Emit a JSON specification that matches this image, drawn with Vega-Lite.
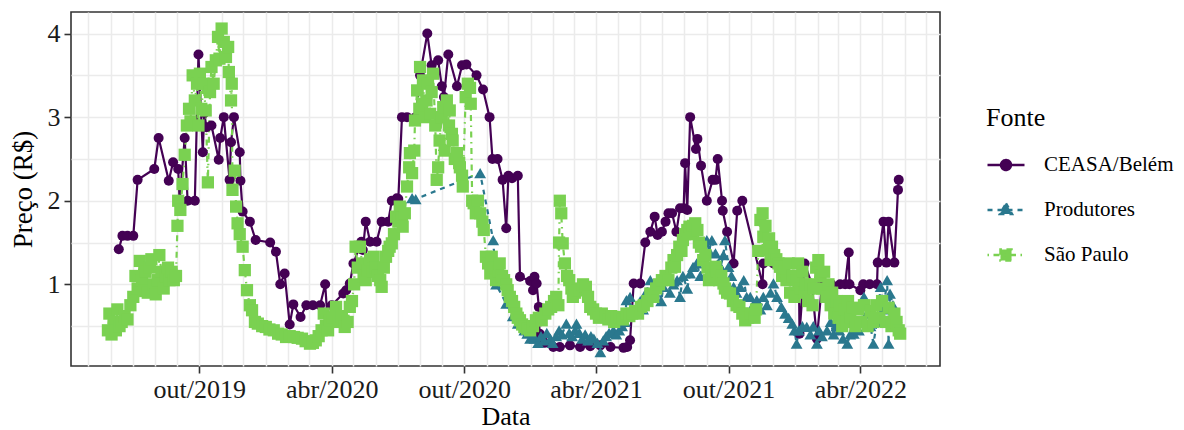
{
"$schema":"https://vega.github.io/schema/vega-lite/v6.json",
"width":869,"height":354,
"autosize":{"type":"none"},
"padding":{"left":71,"top":12,"right":244,"bottom":64},
"background":"white",
"config":{"font":"Liberation Serif","view":{"stroke":"#333333","strokeWidth":1.6}},
"data":{"values":[
{"Data":"2019-06-12","Preco":1.42,"Fonte":"CEASA/Belém"},{"Data":"2019-06-17","Preco":1.58,"Fonte":"CEASA/Belém"},{"Data":"2019-06-24","Preco":1.58,"Fonte":"CEASA/Belém"},{"Data":"2019-07-02","Preco":1.58,"Fonte":"CEASA/Belém"},{"Data":"2019-07-08","Preco":2.25,"Fonte":"CEASA/Belém"},{"Data":"2019-07-31","Preco":2.38,"Fonte":"CEASA/Belém"},{"Data":"2019-08-06","Preco":2.75,"Fonte":"CEASA/Belém"},{"Data":"2019-08-20","Preco":2.24,"Fonte":"CEASA/Belém"},{"Data":"2019-08-26","Preco":2.46,"Fonte":"CEASA/Belém"},{"Data":"2019-09-02","Preco":2.38,"Fonte":"CEASA/Belém"},{"Data":"2019-09-04","Preco":2.0,"Fonte":"CEASA/Belém"},{"Data":"2019-09-11","Preco":2.75,"Fonte":"CEASA/Belém"},{"Data":"2019-09-15","Preco":2.0,"Fonte":"CEASA/Belém"},{"Data":"2019-09-25","Preco":2.0,"Fonte":"CEASA/Belém"},{"Data":"2019-09-30","Preco":3.75,"Fonte":"CEASA/Belém"},{"Data":"2019-10-06","Preco":2.58,"Fonte":"CEASA/Belém"},{"Data":"2019-10-08","Preco":3.05,"Fonte":"CEASA/Belém"},{"Data":"2019-10-11","Preco":2.88,"Fonte":"CEASA/Belém"},{"Data":"2019-10-18","Preco":2.9,"Fonte":"CEASA/Belém"},{"Data":"2019-10-28","Preco":2.49,"Fonte":"CEASA/Belém"},{"Data":"2019-10-30","Preco":2.75,"Fonte":"CEASA/Belém"},{"Data":"2019-11-04","Preco":3.0,"Fonte":"CEASA/Belém"},{"Data":"2019-11-12","Preco":2.25,"Fonte":"CEASA/Belém"},{"Data":"2019-11-14","Preco":2.7,"Fonte":"CEASA/Belém"},{"Data":"2019-11-18","Preco":3.0,"Fonte":"CEASA/Belém"},{"Data":"2019-11-26","Preco":2.58,"Fonte":"CEASA/Belém"},{"Data":"2019-11-27","Preco":2.24,"Fonte":"CEASA/Belém"},{"Data":"2019-11-30","Preco":1.87,"Fonte":"CEASA/Belém"},{"Data":"2019-12-10","Preco":1.75,"Fonte":"CEASA/Belém"},{"Data":"2019-12-18","Preco":1.53,"Fonte":"CEASA/Belém"},{"Data":"2020-01-07","Preco":1.5,"Fonte":"CEASA/Belém"},{"Data":"2020-01-15","Preco":1.39,"Fonte":"CEASA/Belém"},{"Data":"2020-01-21","Preco":1.0,"Fonte":"CEASA/Belém"},{"Data":"2020-01-27","Preco":1.13,"Fonte":"CEASA/Belém"},{"Data":"2020-02-03","Preco":0.52,"Fonte":"CEASA/Belém"},{"Data":"2020-02-08","Preco":0.76,"Fonte":"CEASA/Belém"},{"Data":"2020-02-18","Preco":0.61,"Fonte":"CEASA/Belém"},{"Data":"2020-02-26","Preco":0.75,"Fonte":"CEASA/Belém"},{"Data":"2020-03-06","Preco":0.75,"Fonte":"CEASA/Belém"},{"Data":"2020-03-16","Preco":0.75,"Fonte":"CEASA/Belém"},{"Data":"2020-03-23","Preco":1.0,"Fonte":"CEASA/Belém"},{"Data":"2020-03-27","Preco":0.48,"Fonte":"CEASA/Belém"},{"Data":"2020-04-01","Preco":0.75,"Fonte":"CEASA/Belém"},{"Data":"2020-04-17","Preco":0.89,"Fonte":"CEASA/Belém"},{"Data":"2020-04-21","Preco":0.93,"Fonte":"CEASA/Belém"},{"Data":"2020-04-26","Preco":1.01,"Fonte":"CEASA/Belém"},{"Data":"2020-05-01","Preco":1.25,"Fonte":"CEASA/Belém"},{"Data":"2020-05-12","Preco":1.51,"Fonte":"CEASA/Belém"},{"Data":"2020-05-14","Preco":1.41,"Fonte":"CEASA/Belém"},{"Data":"2020-05-18","Preco":1.75,"Fonte":"CEASA/Belém"},{"Data":"2020-05-24","Preco":1.51,"Fonte":"CEASA/Belém"},{"Data":"2020-06-02","Preco":1.51,"Fonte":"CEASA/Belém"},{"Data":"2020-06-09","Preco":1.75,"Fonte":"CEASA/Belém"},{"Data":"2020-06-18","Preco":1.75,"Fonte":"CEASA/Belém"},{"Data":"2020-06-23","Preco":2.0,"Fonte":"CEASA/Belém"},{"Data":"2020-06-30","Preco":2.03,"Fonte":"CEASA/Belém"},{"Data":"2020-07-02","Preco":2.02,"Fonte":"CEASA/Belém"},{"Data":"2020-07-07","Preco":3.0,"Fonte":"CEASA/Belém"},{"Data":"2020-07-14","Preco":3.0,"Fonte":"CEASA/Belém"},{"Data":"2020-07-26","Preco":3.0,"Fonte":"CEASA/Belém"},{"Data":"2020-08-01","Preco":3.5,"Fonte":"CEASA/Belém"},{"Data":"2020-08-11","Preco":4.0,"Fonte":"CEASA/Belém"},{"Data":"2020-08-17","Preco":3.62,"Fonte":"CEASA/Belém"},{"Data":"2020-08-26","Preco":3.68,"Fonte":"CEASA/Belém"},{"Data":"2020-08-31","Preco":3.37,"Fonte":"CEASA/Belém"},{"Data":"2020-09-03","Preco":3.24,"Fonte":"CEASA/Belém"},{"Data":"2020-09-09","Preco":3.75,"Fonte":"CEASA/Belém"},{"Data":"2020-09-21","Preco":3.37,"Fonte":"CEASA/Belém"},{"Data":"2020-09-28","Preco":3.62,"Fonte":"CEASA/Belém"},{"Data":"2020-10-04","Preco":3.63,"Fonte":"CEASA/Belém"},{"Data":"2020-10-18","Preco":3.5,"Fonte":"CEASA/Belém"},{"Data":"2020-10-27","Preco":3.33,"Fonte":"CEASA/Belém"},{"Data":"2020-11-05","Preco":3.0,"Fonte":"CEASA/Belém"},{"Data":"2020-11-09","Preco":2.5,"Fonte":"CEASA/Belém"},{"Data":"2020-11-16","Preco":2.5,"Fonte":"CEASA/Belém"},{"Data":"2020-11-23","Preco":2.25,"Fonte":"CEASA/Belém"},{"Data":"2020-11-28","Preco":1.67,"Fonte":"CEASA/Belém"},{"Data":"2020-12-01","Preco":2.3,"Fonte":"CEASA/Belém"},{"Data":"2020-12-06","Preco":2.27,"Fonte":"CEASA/Belém"},{"Data":"2020-12-14","Preco":2.3,"Fonte":"CEASA/Belém"},{"Data":"2020-12-17","Preco":1.09,"Fonte":"CEASA/Belém"},{"Data":"2020-12-31","Preco":1.04,"Fonte":"CEASA/Belém"},{"Data":"2021-01-04","Preco":0.93,"Fonte":"CEASA/Belém"},{"Data":"2021-01-06","Preco":1.09,"Fonte":"CEASA/Belém"},{"Data":"2021-01-09","Preco":1.01,"Fonte":"CEASA/Belém"},{"Data":"2021-01-12","Preco":0.73,"Fonte":"CEASA/Belém"},{"Data":"2021-01-13","Preco":0.41,"Fonte":"CEASA/Belém"},{"Data":"2021-01-20","Preco":0.3,"Fonte":"CEASA/Belém"},{"Data":"2021-02-01","Preco":0.25,"Fonte":"CEASA/Belém"},{"Data":"2021-02-10","Preco":0.25,"Fonte":"CEASA/Belém"},{"Data":"2021-02-24","Preco":0.27,"Fonte":"CEASA/Belém"},{"Data":"2021-03-10","Preco":0.25,"Fonte":"CEASA/Belém"},{"Data":"2021-03-24","Preco":0.26,"Fonte":"CEASA/Belém"},{"Data":"2021-04-07","Preco":0.27,"Fonte":"CEASA/Belém"},{"Data":"2021-04-21","Preco":0.25,"Fonte":"CEASA/Belém"},{"Data":"2021-05-09","Preco":0.24,"Fonte":"CEASA/Belém"},{"Data":"2021-05-14","Preco":0.25,"Fonte":"CEASA/Belém"},{"Data":"2021-05-18","Preco":0.33,"Fonte":"CEASA/Belém"},{"Data":"2021-05-23","Preco":1.01,"Fonte":"CEASA/Belém"},{"Data":"2021-06-01","Preco":1.01,"Fonte":"CEASA/Belém"},{"Data":"2021-06-08","Preco":1.5,"Fonte":"CEASA/Belém"},{"Data":"2021-06-15","Preco":1.63,"Fonte":"CEASA/Belém"},{"Data":"2021-06-21","Preco":1.81,"Fonte":"CEASA/Belém"},{"Data":"2021-06-25","Preco":1.59,"Fonte":"CEASA/Belém"},{"Data":"2021-07-01","Preco":1.63,"Fonte":"CEASA/Belém"},{"Data":"2021-07-06","Preco":1.75,"Fonte":"CEASA/Belém"},{"Data":"2021-07-10","Preco":1.85,"Fonte":"CEASA/Belém"},{"Data":"2021-07-15","Preco":1.85,"Fonte":"CEASA/Belém"},{"Data":"2021-07-21","Preco":1.63,"Fonte":"CEASA/Belém"},{"Data":"2021-07-26","Preco":1.91,"Fonte":"CEASA/Belém"},{"Data":"2021-07-31","Preco":1.91,"Fonte":"CEASA/Belém"},{"Data":"2021-08-02","Preco":2.45,"Fonte":"CEASA/Belém"},{"Data":"2021-08-05","Preco":1.89,"Fonte":"CEASA/Belém"},{"Data":"2021-08-09","Preco":3.0,"Fonte":"CEASA/Belém"},{"Data":"2021-08-17","Preco":2.62,"Fonte":"CEASA/Belém"},{"Data":"2021-08-19","Preco":2.74,"Fonte":"CEASA/Belém"},{"Data":"2021-08-24","Preco":2.42,"Fonte":"CEASA/Belém"},{"Data":"2021-09-01","Preco":2.0,"Fonte":"CEASA/Belém"},{"Data":"2021-09-09","Preco":2.25,"Fonte":"CEASA/Belém"},{"Data":"2021-09-13","Preco":2.25,"Fonte":"CEASA/Belém"},{"Data":"2021-09-16","Preco":2.5,"Fonte":"CEASA/Belém"},{"Data":"2021-09-22","Preco":2.0,"Fonte":"CEASA/Belém"},{"Data":"2021-09-23","Preco":1.88,"Fonte":"CEASA/Belém"},{"Data":"2021-09-29","Preco":1.63,"Fonte":"CEASA/Belém"},{"Data":"2021-10-08","Preco":1.25,"Fonte":"CEASA/Belém"},{"Data":"2021-10-13","Preco":1.88,"Fonte":"CEASA/Belém"},{"Data":"2021-10-20","Preco":2.0,"Fonte":"CEASA/Belém"},{"Data":"2021-11-17","Preco":1.0,"Fonte":"CEASA/Belém"},{"Data":"2021-11-18","Preco":1.25,"Fonte":"CEASA/Belém"},{"Data":"2021-12-02","Preco":1.25,"Fonte":"CEASA/Belém"},{"Data":"2021-12-15","Preco":1.25,"Fonte":"CEASA/Belém"},{"Data":"2021-12-30","Preco":1.25,"Fonte":"CEASA/Belém"},{"Data":"2022-01-06","Preco":1.25,"Fonte":"CEASA/Belém"},{"Data":"2022-01-07","Preco":0.41,"Fonte":"CEASA/Belém"},{"Data":"2022-01-14","Preco":1.25,"Fonte":"CEASA/Belém"},{"Data":"2022-01-24","Preco":1.0,"Fonte":"CEASA/Belém"},{"Data":"2022-01-31","Preco":0.35,"Fonte":"CEASA/Belém"},{"Data":"2022-02-07","Preco":1.0,"Fonte":"CEASA/Belém"},{"Data":"2022-02-20","Preco":1.0,"Fonte":"CEASA/Belém"},{"Data":"2022-03-04","Preco":1.0,"Fonte":"CEASA/Belém"},{"Data":"2022-03-11","Preco":1.0,"Fonte":"CEASA/Belém"},{"Data":"2022-03-16","Preco":1.38,"Fonte":"CEASA/Belém"},{"Data":"2022-03-17","Preco":1.0,"Fonte":"CEASA/Belém"},{"Data":"2022-04-01","Preco":0.93,"Fonte":"CEASA/Belém"},{"Data":"2022-04-05","Preco":1.0,"Fonte":"CEASA/Belém"},{"Data":"2022-04-14","Preco":1.0,"Fonte":"CEASA/Belém"},{"Data":"2022-04-24","Preco":1.0,"Fonte":"CEASA/Belém"},{"Data":"2022-04-25","Preco":1.26,"Fonte":"CEASA/Belém"},{"Data":"2022-05-03","Preco":1.75,"Fonte":"CEASA/Belém"},{"Data":"2022-05-07","Preco":1.26,"Fonte":"CEASA/Belém"},{"Data":"2022-05-10","Preco":1.75,"Fonte":"CEASA/Belém"},{"Data":"2022-05-18","Preco":1.26,"Fonte":"CEASA/Belém"},{"Data":"2022-05-23","Preco":2.13,"Fonte":"CEASA/Belém"},{"Data":"2022-05-24","Preco":2.25,"Fonte":"CEASA/Belém"},
{"Data":"2020-07-21","Preco":2.03,"Fonte":"Produtores"},{"Data":"2020-07-26","Preco":2.02,"Fonte":"Produtores"},{"Data":"2020-10-23","Preco":2.33,"Fonte":"Produtores"},{"Data":"2020-11-10","Preco":1.53,"Fonte":"Produtores"},{"Data":"2020-11-14","Preco":1.0,"Fonte":"Produtores"},{"Data":"2020-11-28","Preco":0.77,"Fonte":"Produtores"},{"Data":"2020-12-07","Preco":0.62,"Fonte":"Produtores"},{"Data":"2020-12-14","Preco":0.53,"Fonte":"Produtores"},{"Data":"2020-12-23","Preco":0.45,"Fonte":"Produtores"},{"Data":"2020-12-27","Preco":0.41,"Fonte":"Produtores"},{"Data":"2020-12-31","Preco":0.35,"Fonte":"Produtores"},{"Data":"2021-01-02","Preco":0.42,"Fonte":"Produtores"},{"Data":"2021-01-06","Preco":0.35,"Fonte":"Produtores"},{"Data":"2021-01-11","Preco":0.3,"Fonte":"Produtores"},{"Data":"2021-01-15","Preco":0.38,"Fonte":"Produtores"},{"Data":"2021-01-19","Preco":0.33,"Fonte":"Produtores"},{"Data":"2021-01-23","Preco":0.42,"Fonte":"Produtores"},{"Data":"2021-01-28","Preco":0.35,"Fonte":"Produtores"},{"Data":"2021-01-31","Preco":0.3,"Fonte":"Produtores"},{"Data":"2021-02-05","Preco":0.38,"Fonte":"Produtores"},{"Data":"2021-02-09","Preco":0.45,"Fonte":"Produtores"},{"Data":"2021-02-13","Preco":0.4,"Fonte":"Produtores"},{"Data":"2021-02-19","Preco":0.53,"Fonte":"Produtores"},{"Data":"2021-02-23","Preco":0.42,"Fonte":"Produtores"},{"Data":"2021-02-27","Preco":0.38,"Fonte":"Produtores"},{"Data":"2021-03-03","Preco":0.45,"Fonte":"Produtores"},{"Data":"2021-03-05","Preco":0.53,"Fonte":"Produtores"},{"Data":"2021-03-09","Preco":0.42,"Fonte":"Produtores"},{"Data":"2021-03-13","Preco":0.35,"Fonte":"Produtores"},{"Data":"2021-03-17","Preco":0.4,"Fonte":"Produtores"},{"Data":"2021-03-21","Preco":0.33,"Fonte":"Produtores"},{"Data":"2021-03-25","Preco":0.38,"Fonte":"Produtores"},{"Data":"2021-03-29","Preco":0.35,"Fonte":"Produtores"},{"Data":"2021-04-03","Preco":0.3,"Fonte":"Produtores"},{"Data":"2021-04-07","Preco":0.19,"Fonte":"Produtores"},{"Data":"2021-04-11","Preco":0.33,"Fonte":"Produtores"},{"Data":"2021-04-15","Preco":0.38,"Fonte":"Produtores"},{"Data":"2021-04-19","Preco":0.42,"Fonte":"Produtores"},{"Data":"2021-04-21","Preco":0.63,"Fonte":"Produtores"},{"Data":"2021-04-25","Preco":0.45,"Fonte":"Produtores"},{"Data":"2021-04-29","Preco":0.4,"Fonte":"Produtores"},{"Data":"2021-05-03","Preco":0.45,"Fonte":"Produtores"},{"Data":"2021-05-07","Preco":0.5,"Fonte":"Produtores"},{"Data":"2021-05-11","Preco":0.55,"Fonte":"Produtores"},{"Data":"2021-05-13","Preco":0.81,"Fonte":"Produtores"},{"Data":"2021-05-18","Preco":0.85,"Fonte":"Produtores"},{"Data":"2021-05-22","Preco":0.65,"Fonte":"Produtores"},{"Data":"2021-05-27","Preco":0.73,"Fonte":"Produtores"},{"Data":"2021-06-01","Preco":0.8,"Fonte":"Produtores"},{"Data":"2021-06-05","Preco":0.7,"Fonte":"Produtores"},{"Data":"2021-06-09","Preco":0.9,"Fonte":"Produtores"},{"Data":"2021-06-15","Preco":1.05,"Fonte":"Produtores"},{"Data":"2021-06-19","Preco":0.85,"Fonte":"Produtores"},{"Data":"2021-06-22","Preco":0.95,"Fonte":"Produtores"},{"Data":"2021-06-26","Preco":0.97,"Fonte":"Produtores"},{"Data":"2021-06-30","Preco":0.8,"Fonte":"Produtores"},{"Data":"2021-07-03","Preco":0.97,"Fonte":"Produtores"},{"Data":"2021-07-08","Preco":1.13,"Fonte":"Produtores"},{"Data":"2021-07-12","Preco":0.9,"Fonte":"Produtores"},{"Data":"2021-07-17","Preco":1.0,"Fonte":"Produtores"},{"Data":"2021-07-22","Preco":1.05,"Fonte":"Produtores"},{"Data":"2021-07-26","Preco":0.85,"Fonte":"Produtores"},{"Data":"2021-07-30","Preco":1.1,"Fonte":"Produtores"},{"Data":"2021-08-05","Preco":0.95,"Fonte":"Produtores"},{"Data":"2021-08-09","Preco":1.13,"Fonte":"Produtores"},{"Data":"2021-08-13","Preco":1.21,"Fonte":"Produtores"},{"Data":"2021-08-18","Preco":1.25,"Fonte":"Produtores"},{"Data":"2021-08-23","Preco":1.1,"Fonte":"Produtores"},{"Data":"2021-08-27","Preco":1.3,"Fonte":"Produtores"},{"Data":"2021-09-01","Preco":1.53,"Fonte":"Produtores"},{"Data":"2021-09-04","Preco":1.4,"Fonte":"Produtores"},{"Data":"2021-09-08","Preco":1.53,"Fonte":"Produtores"},{"Data":"2021-09-13","Preco":1.37,"Fonte":"Produtores"},{"Data":"2021-09-17","Preco":1.25,"Fonte":"Produtores"},{"Data":"2021-09-20","Preco":1.21,"Fonte":"Produtores"},{"Data":"2021-09-24","Preco":1.35,"Fonte":"Produtores"},{"Data":"2021-09-26","Preco":1.53,"Fonte":"Produtores"},{"Data":"2021-10-01","Preco":1.21,"Fonte":"Produtores"},{"Data":"2021-10-05","Preco":1.1,"Fonte":"Produtores"},{"Data":"2021-10-08","Preco":0.97,"Fonte":"Produtores"},{"Data":"2021-10-12","Preco":0.9,"Fonte":"Produtores"},{"Data":"2021-10-17","Preco":0.97,"Fonte":"Produtores"},{"Data":"2021-10-22","Preco":1.05,"Fonte":"Produtores"},{"Data":"2021-10-26","Preco":0.85,"Fonte":"Produtores"},{"Data":"2021-10-31","Preco":0.85,"Fonte":"Produtores"},{"Data":"2021-11-04","Preco":0.75,"Fonte":"Produtores"},{"Data":"2021-11-09","Preco":0.81,"Fonte":"Produtores"},{"Data":"2021-11-14","Preco":0.7,"Fonte":"Produtores"},{"Data":"2021-11-18","Preco":0.85,"Fonte":"Produtores"},{"Data":"2021-11-23","Preco":0.75,"Fonte":"Produtores"},{"Data":"2021-11-28","Preco":0.9,"Fonte":"Produtores"},{"Data":"2021-12-02","Preco":1.01,"Fonte":"Produtores"},{"Data":"2021-12-07","Preco":0.85,"Fonte":"Produtores"},{"Data":"2021-12-13","Preco":0.73,"Fonte":"Produtores"},{"Data":"2021-12-18","Preco":0.65,"Fonte":"Produtores"},{"Data":"2021-12-23","Preco":0.6,"Fonte":"Produtores"},{"Data":"2021-12-28","Preco":0.53,"Fonte":"Produtores"},{"Data":"2021-12-31","Preco":0.45,"Fonte":"Produtores"},{"Data":"2022-01-03","Preco":0.29,"Fonte":"Produtores"},{"Data":"2022-01-06","Preco":0.45,"Fonte":"Produtores"},{"Data":"2022-01-11","Preco":0.5,"Fonte":"Produtores"},{"Data":"2022-01-17","Preco":0.49,"Fonte":"Produtores"},{"Data":"2022-01-22","Preco":0.4,"Fonte":"Produtores"},{"Data":"2022-01-26","Preco":0.5,"Fonte":"Produtores"},{"Data":"2022-01-31","Preco":0.29,"Fonte":"Produtores"},{"Data":"2022-02-03","Preco":0.45,"Fonte":"Produtores"},{"Data":"2022-02-07","Preco":0.38,"Fonte":"Produtores"},{"Data":"2022-02-14","Preco":0.45,"Fonte":"Produtores"},{"Data":"2022-02-19","Preco":0.55,"Fonte":"Produtores"},{"Data":"2022-02-23","Preco":0.4,"Fonte":"Produtores"},{"Data":"2022-02-27","Preco":0.5,"Fonte":"Produtores"},{"Data":"2022-03-03","Preco":0.45,"Fonte":"Produtores"},{"Data":"2022-03-08","Preco":0.35,"Fonte":"Produtores"},{"Data":"2022-03-14","Preco":0.29,"Fonte":"Produtores"},{"Data":"2022-03-18","Preco":0.4,"Fonte":"Produtores"},{"Data":"2022-03-23","Preco":0.41,"Fonte":"Produtores"},{"Data":"2022-03-26","Preco":0.5,"Fonte":"Produtores"},{"Data":"2022-03-30","Preco":0.45,"Fonte":"Produtores"},{"Data":"2022-04-06","Preco":0.85,"Fonte":"Produtores"},{"Data":"2022-04-10","Preco":0.65,"Fonte":"Produtores"},{"Data":"2022-04-15","Preco":0.5,"Fonte":"Produtores"},{"Data":"2022-04-19","Preco":0.29,"Fonte":"Produtores"},{"Data":"2022-04-24","Preco":0.55,"Fonte":"Produtores"},{"Data":"2022-04-29","Preco":0.97,"Fonte":"Produtores"},{"Data":"2022-05-03","Preco":0.7,"Fonte":"Produtores"},{"Data":"2022-05-08","Preco":1.05,"Fonte":"Produtores"},{"Data":"2022-05-10","Preco":0.29,"Fonte":"Produtores"},{"Data":"2022-05-12","Preco":0.89,"Fonte":"Produtores"},{"Data":"2022-05-16","Preco":0.75,"Fonte":"Produtores"},{"Data":"2022-05-21","Preco":0.6,"Fonte":"Produtores"},
{"Data":"2019-05-28","Preco":0.45,"Fonte":"São Paulo"},{"Data":"2019-05-30","Preco":0.65,"Fonte":"São Paulo"},{"Data":"2019-06-02","Preco":0.4,"Fonte":"São Paulo"},{"Data":"2019-06-05","Preco":0.55,"Fonte":"São Paulo"},{"Data":"2019-06-08","Preco":0.45,"Fonte":"São Paulo"},{"Data":"2019-06-10","Preco":0.7,"Fonte":"São Paulo"},{"Data":"2019-06-13","Preco":0.5,"Fonte":"São Paulo"},{"Data":"2019-06-16","Preco":0.55,"Fonte":"São Paulo"},{"Data":"2019-06-20","Preco":0.62,"Fonte":"São Paulo"},{"Data":"2019-06-24","Preco":0.58,"Fonte":"São Paulo"},{"Data":"2019-06-28","Preco":0.75,"Fonte":"São Paulo"},{"Data":"2019-07-02","Preco":0.85,"Fonte":"São Paulo"},{"Data":"2019-07-05","Preco":1.1,"Fonte":"São Paulo"},{"Data":"2019-07-08","Preco":0.95,"Fonte":"São Paulo"},{"Data":"2019-07-11","Preco":1.28,"Fonte":"São Paulo"},{"Data":"2019-07-14","Preco":1.05,"Fonte":"São Paulo"},{"Data":"2019-07-16","Preco":0.92,"Fonte":"São Paulo"},{"Data":"2019-07-19","Preco":1.15,"Fonte":"São Paulo"},{"Data":"2019-07-22","Preco":0.9,"Fonte":"São Paulo"},{"Data":"2019-07-25","Preco":1.2,"Fonte":"São Paulo"},{"Data":"2019-07-27","Preco":1.3,"Fonte":"São Paulo"},{"Data":"2019-07-30","Preco":1.0,"Fonte":"São Paulo"},{"Data":"2019-08-02","Preco":0.88,"Fonte":"São Paulo"},{"Data":"2019-08-05","Preco":1.05,"Fonte":"São Paulo"},{"Data":"2019-08-07","Preco":1.35,"Fonte":"São Paulo"},{"Data":"2019-08-10","Preco":1.15,"Fonte":"São Paulo"},{"Data":"2019-08-13","Preco":0.95,"Fonte":"São Paulo"},{"Data":"2019-08-16","Preco":1.1,"Fonte":"São Paulo"},{"Data":"2019-08-19","Preco":1.2,"Fonte":"São Paulo"},{"Data":"2019-08-21","Preco":1.05,"Fonte":"São Paulo"},{"Data":"2019-08-24","Preco":1.15,"Fonte":"São Paulo"},{"Data":"2019-08-27","Preco":1.05,"Fonte":"São Paulo"},{"Data":"2019-08-30","Preco":1.1,"Fonte":"São Paulo"},{"Data":"2019-09-01","Preco":1.7,"Fonte":"São Paulo"},{"Data":"2019-09-02","Preco":2.0,"Fonte":"São Paulo"},{"Data":"2019-09-05","Preco":1.89,"Fonte":"São Paulo"},{"Data":"2019-09-08","Preco":2.2,"Fonte":"São Paulo"},{"Data":"2019-09-11","Preco":2.55,"Fonte":"São Paulo"},{"Data":"2019-09-14","Preco":2.9,"Fonte":"São Paulo"},{"Data":"2019-09-17","Preco":3.1,"Fonte":"São Paulo"},{"Data":"2019-09-19","Preco":2.95,"Fonte":"São Paulo"},{"Data":"2019-09-22","Preco":3.5,"Fonte":"São Paulo"},{"Data":"2019-09-25","Preco":3.2,"Fonte":"São Paulo"},{"Data":"2019-09-28","Preco":3.4,"Fonte":"São Paulo"},{"Data":"2019-09-30","Preco":2.9,"Fonte":"São Paulo"},{"Data":"2019-10-02","Preco":3.52,"Fonte":"São Paulo"},{"Data":"2019-10-04","Preco":3.1,"Fonte":"São Paulo"},{"Data":"2019-10-07","Preco":3.4,"Fonte":"São Paulo"},{"Data":"2019-10-10","Preco":3.08,"Fonte":"São Paulo"},{"Data":"2019-10-13","Preco":2.22,"Fonte":"São Paulo"},{"Data":"2019-10-16","Preco":3.3,"Fonte":"São Paulo"},{"Data":"2019-10-18","Preco":3.6,"Fonte":"São Paulo"},{"Data":"2019-10-21","Preco":3.4,"Fonte":"São Paulo"},{"Data":"2019-10-24","Preco":3.68,"Fonte":"São Paulo"},{"Data":"2019-10-27","Preco":3.96,"Fonte":"São Paulo"},{"Data":"2019-10-29","Preco":3.7,"Fonte":"São Paulo"},{"Data":"2019-11-01","Preco":4.06,"Fonte":"São Paulo"},{"Data":"2019-11-04","Preco":3.9,"Fonte":"São Paulo"},{"Data":"2019-11-07","Preco":3.72,"Fonte":"São Paulo"},{"Data":"2019-11-10","Preco":3.84,"Fonte":"São Paulo"},{"Data":"2019-11-11","Preco":3.54,"Fonte":"São Paulo"},{"Data":"2019-11-14","Preco":3.2,"Fonte":"São Paulo"},{"Data":"2019-11-15","Preco":3.4,"Fonte":"São Paulo"},{"Data":"2019-11-16","Preco":2.13,"Fonte":"São Paulo"},{"Data":"2019-11-19","Preco":2.36,"Fonte":"São Paulo"},{"Data":"2019-11-21","Preco":1.93,"Fonte":"São Paulo"},{"Data":"2019-11-23","Preco":1.73,"Fonte":"São Paulo"},{"Data":"2019-11-26","Preco":1.6,"Fonte":"São Paulo"},{"Data":"2019-11-30","Preco":1.45,"Fonte":"São Paulo"},{"Data":"2019-12-03","Preco":1.17,"Fonte":"São Paulo"},{"Data":"2019-12-06","Preco":0.93,"Fonte":"São Paulo"},{"Data":"2019-12-10","Preco":0.75,"Fonte":"São Paulo"},{"Data":"2019-12-13","Preco":0.69,"Fonte":"São Paulo"},{"Data":"2019-12-17","Preco":0.55,"Fonte":"São Paulo"},{"Data":"2019-12-21","Preco":0.53,"Fonte":"São Paulo"},{"Data":"2019-12-27","Preco":0.5,"Fonte":"São Paulo"},{"Data":"2020-01-01","Preco":0.49,"Fonte":"São Paulo"},{"Data":"2020-01-06","Preco":0.46,"Fonte":"São Paulo"},{"Data":"2020-01-12","Preco":0.45,"Fonte":"São Paulo"},{"Data":"2020-01-18","Preco":0.41,"Fonte":"São Paulo"},{"Data":"2020-01-23","Preco":0.4,"Fonte":"São Paulo"},{"Data":"2020-01-29","Preco":0.37,"Fonte":"São Paulo"},{"Data":"2020-02-03","Preco":0.38,"Fonte":"São Paulo"},{"Data":"2020-02-09","Preco":0.37,"Fonte":"São Paulo"},{"Data":"2020-02-14","Preco":0.36,"Fonte":"São Paulo"},{"Data":"2020-02-20","Preco":0.35,"Fonte":"São Paulo"},{"Data":"2020-02-25","Preco":0.32,"Fonte":"São Paulo"},{"Data":"2020-03-02","Preco":0.29,"Fonte":"São Paulo"},{"Data":"2020-03-06","Preco":0.3,"Fonte":"São Paulo"},{"Data":"2020-03-10","Preco":0.33,"Fonte":"São Paulo"},{"Data":"2020-03-14","Preco":0.38,"Fonte":"São Paulo"},{"Data":"2020-03-18","Preco":0.45,"Fonte":"São Paulo"},{"Data":"2020-03-21","Preco":0.65,"Fonte":"São Paulo"},{"Data":"2020-03-24","Preco":0.5,"Fonte":"São Paulo"},{"Data":"2020-03-27","Preco":0.45,"Fonte":"São Paulo"},{"Data":"2020-03-29","Preco":0.57,"Fonte":"São Paulo"},{"Data":"2020-04-02","Preco":0.6,"Fonte":"São Paulo"},{"Data":"2020-04-07","Preco":0.73,"Fonte":"São Paulo"},{"Data":"2020-04-11","Preco":0.55,"Fonte":"São Paulo"},{"Data":"2020-04-15","Preco":0.62,"Fonte":"São Paulo"},{"Data":"2020-04-19","Preco":0.49,"Fonte":"São Paulo"},{"Data":"2020-04-23","Preco":0.55,"Fonte":"São Paulo"},{"Data":"2020-04-26","Preco":0.73,"Fonte":"São Paulo"},{"Data":"2020-04-29","Preco":0.8,"Fonte":"São Paulo"},{"Data":"2020-05-02","Preco":1.0,"Fonte":"São Paulo"},{"Data":"2020-05-04","Preco":1.45,"Fonte":"São Paulo"},{"Data":"2020-05-07","Preco":1.2,"Fonte":"São Paulo"},{"Data":"2020-05-10","Preco":1.45,"Fonte":"São Paulo"},{"Data":"2020-05-13","Preco":1.25,"Fonte":"São Paulo"},{"Data":"2020-05-15","Preco":1.1,"Fonte":"São Paulo"},{"Data":"2020-05-18","Preco":1.05,"Fonte":"São Paulo"},{"Data":"2020-05-21","Preco":1.17,"Fonte":"São Paulo"},{"Data":"2020-05-24","Preco":1.3,"Fonte":"São Paulo"},{"Data":"2020-05-27","Preco":1.15,"Fonte":"São Paulo"},{"Data":"2020-05-29","Preco":1.33,"Fonte":"São Paulo"},{"Data":"2020-06-01","Preco":1.2,"Fonte":"São Paulo"},{"Data":"2020-06-04","Preco":1.1,"Fonte":"São Paulo"},{"Data":"2020-06-07","Preco":1.05,"Fonte":"São Paulo"},{"Data":"2020-06-09","Preco":0.97,"Fonte":"São Paulo"},{"Data":"2020-06-12","Preco":1.2,"Fonte":"São Paulo"},{"Data":"2020-06-15","Preco":1.33,"Fonte":"São Paulo"},{"Data":"2020-06-18","Preco":1.4,"Fonte":"São Paulo"},{"Data":"2020-06-20","Preco":1.45,"Fonte":"São Paulo"},{"Data":"2020-06-23","Preco":1.49,"Fonte":"São Paulo"},{"Data":"2020-06-26","Preco":1.6,"Fonte":"São Paulo"},{"Data":"2020-06-29","Preco":1.81,"Fonte":"São Paulo"},{"Data":"2020-07-02","Preco":1.75,"Fonte":"São Paulo"},{"Data":"2020-07-04","Preco":1.93,"Fonte":"São Paulo"},{"Data":"2020-07-07","Preco":1.8,"Fonte":"São Paulo"},{"Data":"2020-07-08","Preco":1.69,"Fonte":"São Paulo"},{"Data":"2020-07-11","Preco":1.85,"Fonte":"São Paulo"},{"Data":"2020-07-14","Preco":2.17,"Fonte":"São Paulo"},{"Data":"2020-07-17","Preco":2.4,"Fonte":"São Paulo"},{"Data":"2020-07-18","Preco":2.57,"Fonte":"São Paulo"},{"Data":"2020-07-21","Preco":2.33,"Fonte":"São Paulo"},{"Data":"2020-07-24","Preco":2.6,"Fonte":"São Paulo"},{"Data":"2020-07-25","Preco":2.96,"Fonte":"São Paulo"},{"Data":"2020-07-28","Preco":3.32,"Fonte":"São Paulo"},{"Data":"2020-07-31","Preco":3.1,"Fonte":"São Paulo"},{"Data":"2020-08-01","Preco":3.6,"Fonte":"São Paulo"},{"Data":"2020-08-04","Preco":3.16,"Fonte":"São Paulo"},{"Data":"2020-08-05","Preco":3.44,"Fonte":"São Paulo"},{"Data":"2020-08-08","Preco":3.0,"Fonte":"São Paulo"},{"Data":"2020-08-10","Preco":3.2,"Fonte":"São Paulo"},{"Data":"2020-08-12","Preco":3.4,"Fonte":"São Paulo"},{"Data":"2020-08-15","Preco":3.04,"Fonte":"São Paulo"},{"Data":"2020-08-17","Preco":3.3,"Fonte":"São Paulo"},{"Data":"2020-08-19","Preco":3.52,"Fonte":"São Paulo"},{"Data":"2020-08-22","Preco":2.9,"Fonte":"São Paulo"},{"Data":"2020-08-24","Preco":2.25,"Fonte":"São Paulo"},{"Data":"2020-08-26","Preco":2.4,"Fonte":"São Paulo"},{"Data":"2020-08-28","Preco":2.72,"Fonte":"São Paulo"},{"Data":"2020-08-31","Preco":3.0,"Fonte":"São Paulo"},{"Data":"2020-09-02","Preco":3.12,"Fonte":"São Paulo"},{"Data":"2020-09-04","Preco":2.6,"Fonte":"São Paulo"},{"Data":"2020-09-07","Preco":3.2,"Fonte":"São Paulo"},{"Data":"2020-09-10","Preco":2.9,"Fonte":"São Paulo"},{"Data":"2020-09-11","Preco":3.08,"Fonte":"São Paulo"},{"Data":"2020-09-14","Preco":2.8,"Fonte":"São Paulo"},{"Data":"2020-09-15","Preco":2.72,"Fonte":"São Paulo"},{"Data":"2020-09-18","Preco":2.5,"Fonte":"São Paulo"},{"Data":"2020-09-21","Preco":2.57,"Fonte":"São Paulo"},{"Data":"2020-09-24","Preco":2.45,"Fonte":"São Paulo"},{"Data":"2020-09-25","Preco":2.4,"Fonte":"São Paulo"},{"Data":"2020-09-28","Preco":2.3,"Fonte":"São Paulo"},{"Data":"2020-09-29","Preco":2.17,"Fonte":"São Paulo"},{"Data":"2020-10-03","Preco":3.24,"Fonte":"São Paulo"},{"Data":"2020-10-06","Preco":3.4,"Fonte":"São Paulo"},{"Data":"2020-10-09","Preco":3.35,"Fonte":"São Paulo"},{"Data":"2020-10-10","Preco":3.16,"Fonte":"São Paulo"},{"Data":"2020-10-12","Preco":2.0,"Fonte":"São Paulo"},{"Data":"2020-10-14","Preco":1.97,"Fonte":"São Paulo"},{"Data":"2020-10-17","Preco":1.85,"Fonte":"São Paulo"},{"Data":"2020-10-20","Preco":2.0,"Fonte":"São Paulo"},{"Data":"2020-10-23","Preco":1.85,"Fonte":"São Paulo"},{"Data":"2020-10-26","Preco":1.75,"Fonte":"São Paulo"},{"Data":"2020-10-28","Preco":1.65,"Fonte":"São Paulo"},{"Data":"2020-10-31","Preco":1.33,"Fonte":"São Paulo"},{"Data":"2020-11-03","Preco":1.25,"Fonte":"São Paulo"},{"Data":"2020-11-06","Preco":1.13,"Fonte":"São Paulo"},{"Data":"2020-11-08","Preco":1.33,"Fonte":"São Paulo"},{"Data":"2020-11-11","Preco":1.2,"Fonte":"São Paulo"},{"Data":"2020-11-14","Preco":1.05,"Fonte":"São Paulo"},{"Data":"2020-11-17","Preco":1.15,"Fonte":"São Paulo"},{"Data":"2020-11-19","Preco":1.25,"Fonte":"São Paulo"},{"Data":"2020-11-22","Preco":1.1,"Fonte":"São Paulo"},{"Data":"2020-11-25","Preco":1.05,"Fonte":"São Paulo"},{"Data":"2020-11-28","Preco":1.0,"Fonte":"São Paulo"},{"Data":"2020-11-30","Preco":0.93,"Fonte":"São Paulo"},{"Data":"2020-12-03","Preco":0.85,"Fonte":"São Paulo"},{"Data":"2020-12-06","Preco":0.8,"Fonte":"São Paulo"},{"Data":"2020-12-09","Preco":0.73,"Fonte":"São Paulo"},{"Data":"2020-12-12","Preco":0.65,"Fonte":"São Paulo"},{"Data":"2020-12-14","Preco":0.6,"Fonte":"São Paulo"},{"Data":"2020-12-17","Preco":0.57,"Fonte":"São Paulo"},{"Data":"2020-12-20","Preco":0.52,"Fonte":"São Paulo"},{"Data":"2020-12-23","Preco":0.49,"Fonte":"São Paulo"},{"Data":"2020-12-27","Preco":0.47,"Fonte":"São Paulo"},{"Data":"2020-12-31","Preco":0.45,"Fonte":"São Paulo"},{"Data":"2021-01-04","Preco":0.5,"Fonte":"São Paulo"},{"Data":"2021-01-08","Preco":0.57,"Fonte":"São Paulo"},{"Data":"2021-01-12","Preco":0.6,"Fonte":"São Paulo"},{"Data":"2021-01-16","Preco":0.57,"Fonte":"São Paulo"},{"Data":"2021-01-21","Preco":0.65,"Fonte":"São Paulo"},{"Data":"2021-01-25","Preco":0.7,"Fonte":"São Paulo"},{"Data":"2021-01-29","Preco":0.73,"Fonte":"São Paulo"},{"Data":"2021-02-02","Preco":0.8,"Fonte":"São Paulo"},{"Data":"2021-02-05","Preco":0.85,"Fonte":"São Paulo"},{"Data":"2021-02-08","Preco":0.75,"Fonte":"São Paulo"},{"Data":"2021-02-09","Preco":1.5,"Fonte":"São Paulo"},{"Data":"2021-02-10","Preco":2.0,"Fonte":"São Paulo"},{"Data":"2021-02-12","Preco":1.85,"Fonte":"São Paulo"},{"Data":"2021-02-14","Preco":1.49,"Fonte":"São Paulo"},{"Data":"2021-02-17","Preco":1.25,"Fonte":"São Paulo"},{"Data":"2021-02-20","Preco":1.1,"Fonte":"São Paulo"},{"Data":"2021-02-23","Preco":1.05,"Fonte":"São Paulo"},{"Data":"2021-02-26","Preco":0.95,"Fonte":"São Paulo"},{"Data":"2021-02-28","Preco":0.85,"Fonte":"São Paulo"},{"Data":"2021-03-03","Preco":0.9,"Fonte":"São Paulo"},{"Data":"2021-03-06","Preco":0.93,"Fonte":"São Paulo"},{"Data":"2021-03-10","Preco":0.93,"Fonte":"São Paulo"},{"Data":"2021-03-14","Preco":1.0,"Fonte":"São Paulo"},{"Data":"2021-03-18","Preco":0.97,"Fonte":"São Paulo"},{"Data":"2021-03-21","Preco":0.85,"Fonte":"São Paulo"},{"Data":"2021-03-24","Preco":0.73,"Fonte":"São Paulo"},{"Data":"2021-03-28","Preco":0.7,"Fonte":"São Paulo"},{"Data":"2021-04-01","Preco":0.65,"Fonte":"São Paulo"},{"Data":"2021-04-05","Preco":0.6,"Fonte":"São Paulo"},{"Data":"2021-04-09","Preco":0.65,"Fonte":"São Paulo"},{"Data":"2021-04-14","Preco":0.61,"Fonte":"São Paulo"},{"Data":"2021-04-18","Preco":0.58,"Fonte":"São Paulo"},{"Data":"2021-04-22","Preco":0.62,"Fonte":"São Paulo"},{"Data":"2021-04-26","Preco":0.55,"Fonte":"São Paulo"},{"Data":"2021-04-30","Preco":0.6,"Fonte":"São Paulo"},{"Data":"2021-05-04","Preco":0.61,"Fonte":"São Paulo"},{"Data":"2021-05-08","Preco":0.58,"Fonte":"São Paulo"},{"Data":"2021-05-13","Preco":0.65,"Fonte":"São Paulo"},{"Data":"2021-05-17","Preco":0.62,"Fonte":"São Paulo"},{"Data":"2021-05-21","Preco":0.65,"Fonte":"São Paulo"},{"Data":"2021-05-25","Preco":0.68,"Fonte":"São Paulo"},{"Data":"2021-05-29","Preco":0.65,"Fonte":"São Paulo"},{"Data":"2021-06-02","Preco":0.73,"Fonte":"São Paulo"},{"Data":"2021-06-06","Preco":0.75,"Fonte":"São Paulo"},{"Data":"2021-06-11","Preco":0.8,"Fonte":"São Paulo"},{"Data":"2021-06-15","Preco":0.89,"Fonte":"São Paulo"},{"Data":"2021-06-19","Preco":0.85,"Fonte":"São Paulo"},{"Data":"2021-06-23","Preco":0.95,"Fonte":"São Paulo"},{"Data":"2021-06-27","Preco":1.0,"Fonte":"São Paulo"},{"Data":"2021-07-01","Preco":1.05,"Fonte":"São Paulo"},{"Data":"2021-07-06","Preco":1.1,"Fonte":"São Paulo"},{"Data":"2021-07-10","Preco":1.05,"Fonte":"São Paulo"},{"Data":"2021-07-14","Preco":1.2,"Fonte":"São Paulo"},{"Data":"2021-07-17","Preco":1.29,"Fonte":"São Paulo"},{"Data":"2021-07-19","Preco":1.21,"Fonte":"São Paulo"},{"Data":"2021-07-22","Preco":1.35,"Fonte":"São Paulo"},{"Data":"2021-07-25","Preco":1.45,"Fonte":"São Paulo"},{"Data":"2021-07-28","Preco":1.4,"Fonte":"São Paulo"},{"Data":"2021-07-30","Preco":1.53,"Fonte":"São Paulo"},{"Data":"2021-08-02","Preco":1.6,"Fonte":"São Paulo"},{"Data":"2021-08-05","Preco":1.65,"Fonte":"São Paulo"},{"Data":"2021-08-08","Preco":1.69,"Fonte":"São Paulo"},{"Data":"2021-08-10","Preco":1.6,"Fonte":"São Paulo"},{"Data":"2021-08-13","Preco":1.7,"Fonte":"São Paulo"},{"Data":"2021-08-16","Preco":1.73,"Fonte":"São Paulo"},{"Data":"2021-08-19","Preco":1.65,"Fonte":"São Paulo"},{"Data":"2021-08-21","Preco":1.5,"Fonte":"São Paulo"},{"Data":"2021-08-24","Preco":1.45,"Fonte":"São Paulo"},{"Data":"2021-08-27","Preco":1.29,"Fonte":"São Paulo"},{"Data":"2021-08-30","Preco":1.35,"Fonte":"São Paulo"},{"Data":"2021-09-02","Preco":1.2,"Fonte":"São Paulo"},{"Data":"2021-09-04","Preco":1.05,"Fonte":"São Paulo"},{"Data":"2021-09-07","Preco":1.15,"Fonte":"São Paulo"},{"Data":"2021-09-10","Preco":1.1,"Fonte":"São Paulo"},{"Data":"2021-09-13","Preco":1.21,"Fonte":"São Paulo"},{"Data":"2021-09-15","Preco":1.15,"Fonte":"São Paulo"},{"Data":"2021-09-18","Preco":1.05,"Fonte":"São Paulo"},{"Data":"2021-09-21","Preco":1.1,"Fonte":"São Paulo"},{"Data":"2021-09-24","Preco":1.01,"Fonte":"São Paulo"},{"Data":"2021-09-26","Preco":0.95,"Fonte":"São Paulo"},{"Data":"2021-09-29","Preco":0.9,"Fonte":"São Paulo"},{"Data":"2021-10-03","Preco":0.89,"Fonte":"São Paulo"},{"Data":"2021-10-07","Preco":0.8,"Fonte":"São Paulo"},{"Data":"2021-10-12","Preco":0.75,"Fonte":"São Paulo"},{"Data":"2021-10-16","Preco":0.73,"Fonte":"São Paulo"},{"Data":"2021-10-20","Preco":0.65,"Fonte":"São Paulo"},{"Data":"2021-10-24","Preco":0.57,"Fonte":"São Paulo"},{"Data":"2021-10-28","Preco":0.6,"Fonte":"São Paulo"},{"Data":"2021-11-01","Preco":0.65,"Fonte":"São Paulo"},{"Data":"2021-11-06","Preco":0.6,"Fonte":"São Paulo"},{"Data":"2021-11-08","Preco":0.7,"Fonte":"São Paulo"},{"Data":"2021-11-11","Preco":1.4,"Fonte":"São Paulo"},{"Data":"2021-11-14","Preco":1.77,"Fonte":"São Paulo"},{"Data":"2021-11-17","Preco":1.85,"Fonte":"São Paulo"},{"Data":"2021-11-18","Preco":1.57,"Fonte":"São Paulo"},{"Data":"2021-11-21","Preco":1.7,"Fonte":"São Paulo"},{"Data":"2021-11-24","Preco":1.41,"Fonte":"São Paulo"},{"Data":"2021-11-26","Preco":1.55,"Fonte":"São Paulo"},{"Data":"2021-11-28","Preco":1.29,"Fonte":"São Paulo"},{"Data":"2021-11-30","Preco":1.45,"Fonte":"São Paulo"},{"Data":"2021-12-03","Preco":1.35,"Fonte":"São Paulo"},{"Data":"2021-12-06","Preco":1.3,"Fonte":"São Paulo"},{"Data":"2021-12-09","Preco":1.25,"Fonte":"São Paulo"},{"Data":"2021-12-11","Preco":1.21,"Fonte":"São Paulo"},{"Data":"2021-12-14","Preco":1.1,"Fonte":"São Paulo"},{"Data":"2021-12-17","Preco":1.15,"Fonte":"São Paulo"},{"Data":"2021-12-20","Preco":1.05,"Fonte":"São Paulo"},{"Data":"2021-12-23","Preco":1.25,"Fonte":"São Paulo"},{"Data":"2021-12-25","Preco":0.9,"Fonte":"São Paulo"},{"Data":"2021-12-28","Preco":1.1,"Fonte":"São Paulo"},{"Data":"2021-12-31","Preco":0.85,"Fonte":"São Paulo"},{"Data":"2022-01-03","Preco":1.05,"Fonte":"São Paulo"},{"Data":"2022-01-05","Preco":1.25,"Fonte":"São Paulo"},{"Data":"2022-01-08","Preco":0.95,"Fonte":"São Paulo"},{"Data":"2022-01-11","Preco":1.15,"Fonte":"São Paulo"},{"Data":"2022-01-14","Preco":0.9,"Fonte":"São Paulo"},{"Data":"2022-01-16","Preco":1.0,"Fonte":"São Paulo"},{"Data":"2022-01-19","Preco":0.8,"Fonte":"São Paulo"},{"Data":"2022-01-22","Preco":1.0,"Fonte":"São Paulo"},{"Data":"2022-01-25","Preco":0.75,"Fonte":"São Paulo"},{"Data":"2022-01-27","Preco":0.95,"Fonte":"São Paulo"},{"Data":"2022-01-30","Preco":1.2,"Fonte":"São Paulo"},{"Data":"2022-02-02","Preco":1.29,"Fonte":"São Paulo"},{"Data":"2022-02-05","Preco":1.1,"Fonte":"São Paulo"},{"Data":"2022-02-07","Preco":0.95,"Fonte":"São Paulo"},{"Data":"2022-02-10","Preco":1.15,"Fonte":"São Paulo"},{"Data":"2022-02-13","Preco":0.85,"Fonte":"São Paulo"},{"Data":"2022-02-16","Preco":1.0,"Fonte":"São Paulo"},{"Data":"2022-02-19","Preco":0.75,"Fonte":"São Paulo"},{"Data":"2022-02-21","Preco":0.9,"Fonte":"São Paulo"},{"Data":"2022-02-24","Preco":0.65,"Fonte":"São Paulo"},{"Data":"2022-02-27","Preco":0.8,"Fonte":"São Paulo"},{"Data":"2022-03-02","Preco":0.6,"Fonte":"São Paulo"},{"Data":"2022-03-04","Preco":0.75,"Fonte":"São Paulo"},{"Data":"2022-03-07","Preco":0.5,"Fonte":"São Paulo"},{"Data":"2022-03-10","Preco":0.7,"Fonte":"São Paulo"},{"Data":"2022-03-13","Preco":0.55,"Fonte":"São Paulo"},{"Data":"2022-03-15","Preco":0.8,"Fonte":"São Paulo"},{"Data":"2022-03-18","Preco":0.6,"Fonte":"São Paulo"},{"Data":"2022-03-21","Preco":0.72,"Fonte":"São Paulo"},{"Data":"2022-03-25","Preco":0.5,"Fonte":"São Paulo"},{"Data":"2022-03-29","Preco":0.7,"Fonte":"São Paulo"},{"Data":"2022-04-02","Preco":0.55,"Fonte":"São Paulo"},{"Data":"2022-04-06","Preco":0.75,"Fonte":"São Paulo"},{"Data":"2022-04-11","Preco":0.5,"Fonte":"São Paulo"},{"Data":"2022-04-15","Preco":0.68,"Fonte":"São Paulo"},{"Data":"2022-04-19","Preco":0.55,"Fonte":"São Paulo"},{"Data":"2022-04-23","Preco":0.75,"Fonte":"São Paulo"},{"Data":"2022-04-27","Preco":0.6,"Fonte":"São Paulo"},{"Data":"2022-05-01","Preco":0.8,"Fonte":"São Paulo"},{"Data":"2022-05-06","Preco":0.55,"Fonte":"São Paulo"},{"Data":"2022-05-10","Preco":0.72,"Fonte":"São Paulo"},{"Data":"2022-05-14","Preco":0.5,"Fonte":"São Paulo"},{"Data":"2022-05-18","Preco":0.65,"Fonte":"São Paulo"},{"Data":"2022-05-21","Preco":0.55,"Fonte":"São Paulo"},{"Data":"2022-05-24","Preco":0.45,"Fonte":"São Paulo"},{"Data":"2022-05-26","Preco":0.41,"Fonte":"São Paulo"}
]},
"encoding":{
"x":{"field":"Data","type":"temporal",
 "scale":{"type":"utc","domain":[{"year":2019,"month":4,"date":7,"utc":true},{"year":2022,"month":7,"date":20,"utc":true}],"nice":false},
 "axis":{"title":"Data","tickCount":{"interval":"month","step":1},
  "labelExpr":"utcmonth(datum.value)==9 ? 'out/' + utcyear(datum.value) : (utcmonth(datum.value)==3 ? 'abr/' + utcyear(datum.value) : '')",
  "labelOverlap":false,"labelFlush":false,"labelFont":"Liberation Serif","labelFontSize":26,"labelColor":"#1a1a1a","labelPadding":3,
  "titleFont":"Liberation Serif","titleFontSize":26,"titleFontWeight":"normal","titleColor":"#000000","titlePadding":1,
  "domain":false,"tickColor":"#333333","tickWidth":1.6,"tickSize":7,
  "tickOpacity":{"condition":{"test":"utcmonth(datum.value)==3 || utcmonth(datum.value)==9","value":1},"value":0},
  "gridColor":"#EBEBEB","gridWidth":1.5}},
"y":{"field":"Preco","type":"quantitative",
 "scale":{"domain":[0.023,4.258],"nice":false,"zero":false},
 "axis":{"title":"Preço (R$)","values":[0.5,1,1.5,2,2.5,3,3.5,4],
  "labelExpr":"datum.value % 1 === 0 ? format(datum.value,'d') : ''",
  "labelOverlap":false,"labelFlush":false,"labelFont":"Liberation Serif","labelFontSize":26,"labelColor":"#1a1a1a","labelPadding":4,
  "titleFont":"Liberation Serif","titleFontSize":27,"titleFontWeight":"normal","titleColor":"#000000","titlePadding":10,
  "domain":false,"tickColor":"#333333","tickWidth":1.6,"tickSize":7,
  "tickOpacity":{"condition":{"test":"datum.value % 1 === 0","value":1},"value":0},
  "gridColor":"#EBEBEB","gridWidth":1.5}},
"color":{"field":"Fonte","type":"nominal",
 "scale":{"domain":["CEASA/Belém","Produtores","São Paulo"],"range":["#440154","#2A788E","#7AD151"]},
 "legend":{"orient":"none","legendX":915,"legendY":93,"title":"Fonte",
  "titleFont":"Liberation Serif","titleFontSize":26,"titleFontWeight":"normal","titleColor":"#000000","titlePadding":14,
  "labelFont":"Liberation Serif","labelFontSize":21,"labelColor":"#000000","labelOffset":18,
  "symbolSize":1369,"symbolStrokeWidth":2.4,"rowPadding":15,
  "encode":{"symbols":{"update":{
   "shape":{"signal":"datum.value=='CEASA/Belém' ? 'M-1,0H1M0.27,0A0.27,0.27,0,1,1,-0.27,0A0.27,0.27,0,1,1,0.27,0Z' : (datum.value=='Produtores' ? 'M-1,0H1M0,-0.36L0.33,0.22L-0.33,0.22Z' : 'M-1,0H1M-0.3,-0.3H0.3V0.3H-0.3Z')"},
   "strokeDash":{"signal":"datum.value=='CEASA/Belém' ? [1,0] : (datum.value=='Produtores' ? [5,5] : [1.5,4.5,6,4.5])"},
   "fill":{"signal":"datum.value=='CEASA/Belém' ? '#440154' : (datum.value=='Produtores' ? '#2A788E' : '#7AD151')"},
   "stroke":{"signal":"datum.value=='CEASA/Belém' ? '#440154' : (datum.value=='Produtores' ? '#2A788E' : '#7AD151')"},
   "size":{"value":1369},"strokeWidth":{"value":2.4},
   "fillOpacity":{"value":1},"strokeOpacity":{"value":1},"opacity":{"value":1}
  }}}}}
},
"layer":[
{"transform":[{"filter":"datum.Fonte === 'CEASA/Belém'"}],"mark":{"type":"line","strokeWidth":2.2,"clip":false}},
{"transform":[{"filter":"datum.Fonte === 'Produtores'"}],"mark":{"type":"line","strokeWidth":2.2,"strokeDash":[5,5],"clip":false}},
{"transform":[{"filter":"datum.Fonte === 'São Paulo'"}],"mark":{"type":"line","strokeWidth":2.2,"strokeDash":[1.5,4.5,6,4.5],"clip":false}},
{"transform":[{"filter":"datum.Fonte === 'CEASA/Belém'"}],"mark":{"type":"point","shape":"circle","size":100,"filled":true,"opacity":1,"strokeWidth":0}},
{"transform":[{"filter":"datum.Fonte === 'Produtores'"}],"mark":{"type":"point","shape":"triangle-up","size":140,"filled":true,"opacity":1,"strokeWidth":0}},
{"transform":[{"filter":"datum.Fonte === 'São Paulo'"}],"mark":{"type":"point","shape":"square","size":150,"filled":true,"opacity":1,"strokeWidth":0}}
]
}
